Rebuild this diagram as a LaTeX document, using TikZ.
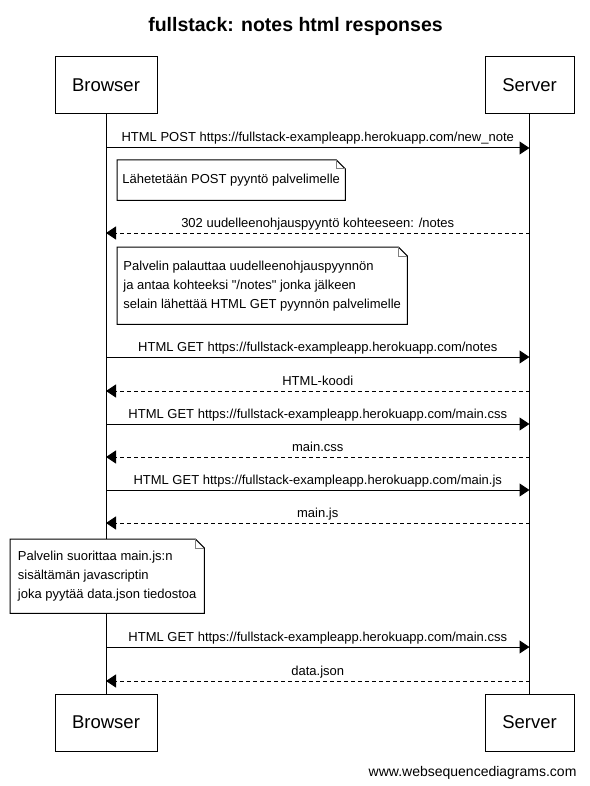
\documentclass[tikz,border=0pt]{standalone}
\usepackage{fontspec}
\setmainfont{Liberation Sans}[Ligatures=TeXOff]
\usetikzlibrary{calc,arrows.meta}

\tikzset{
	actor/.style={draw,line width=1pt,minimum height=57pt,inner sep=0pt,font=\fontsize{18.5}{22}\selectfont},
	req/.style={line width=1pt,-{Triangle[length=10pt,width=13pt]}},
	resp/.style={req,dash pattern=on 4pt off 3pt},
	msgtext/.style={anchor=base,yshift=6pt,inner sep=0pt,font=\fontsize{13}{15}\selectfont},
	notetext/.style={anchor=north west,align=left,inner xsep=5pt,fill=white,font=\fontsize{13}{19}\selectfont},
}
% folded note outline round a named node
\newcommand{\notebox}[1]{%
	\draw[line width=1pt] (#1.south west) -- (#1.north west) -- ($(#1.north east)+(-9pt,0)$) -- ($(#1.north east)+(0,-9pt)$) -- (#1.south east) -- cycle;
	\draw[gray,line width=1pt] ($(#1.north east)+(-9pt,0)$) |- ($(#1.north east)+(0,-9pt)$);
}

\begin{document}
\begin{tikzpicture}[x=1pt,y=-1pt]
	\useasboundingbox (0,0) rectangle (589,786);
	
	\node[anchor=base,font=\bfseries\fontsize{19.5}{23}\selectfont] (title) at (295.5,32) {fullstack: notes html responses};
	
	%participants
	\node[actor,minimum width=102pt] (browser) at (106,85.5) {Browser};
	\node[actor,minimum width=89pt] (server) at (529.5,85.5) {Server};
	\node[actor,minimum width=102pt] (browser-end) at (106,722.5) {Browser};
	\node[actor,minimum width=89pt] (server-end) at (529.5,722.5) {Server};
	\draw[line width=1pt] (browser) -- (browser-end);
	\draw[line width=1pt] (server) -- (server-end);
	
	%messages
	\foreach \y/\from/\to/\sty/\txt [count=\i] in {
		148/b/s/req/{HTML POST https://fullstack-exampleapp.herokuapp.com/new\_note},
		233/s/b/resp/{302 uudelleenohjauspyyntö kohteeseen: /notes},
		357/b/s/req/{HTML GET https://fullstack-exampleapp.herokuapp.com/notes},
		391/s/b/resp/{HTML-koodi},
		424/b/s/req/{HTML GET https://fullstack-exampleapp.herokuapp.com/main.css},
		457/s/b/resp/{main.css},
		490/b/s/req/{HTML GET https://fullstack-exampleapp.herokuapp.com/main.js},
		523/s/b/resp/{main.js},
		647/b/s/req/{HTML GET https://fullstack-exampleapp.herokuapp.com/main.css},
		681/s/b/resp/{data.json}}
	{
		\coordinate (b\i) at (browser |- 0,\y);
		\coordinate (s\i) at (server |- 0,\y);
		\draw[\sty] (\from\i) -- (\to\i) node[midway,msgtext] {\txt};
	}
	
	%notes
	\node[notetext,minimum width=228pt,minimum height=40pt] (post-note) at (117,160) {Lähetetään POST pyyntö palvelimelle};
	\notebox{post-note}
	\node[notetext,minimum width=290pt,minimum height=77pt] (redirect-note) at (117,247) {Palvelin palauttaa uudelleenohjauspyynnön\\ja antaa kohteeksi "/notes" jonka jälkeen\\selain lähettää HTML GET pyynnön palvelimelle};
	\notebox{redirect-note}
	\node[notetext,minimum width=194pt,minimum height=74pt] (js-note) at (10,539) {Palvelin suorittaa main.js:n\\sisältämän javascriptin\\joka pyytää data.json tiedostoa};
	\notebox{js-note}
	
	\node[anchor=base east,font=\fontsize{14}{16}\selectfont] (footer) at (580,776) {www.websequencediagrams.com};
\end{tikzpicture}
\end{document}
